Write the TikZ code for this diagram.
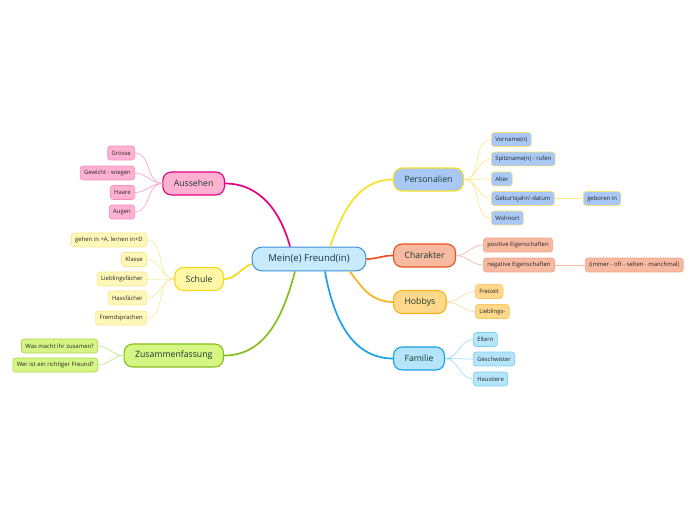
\documentclass[tikz,border=0pt]{standalone}
\usepackage{fontspec}
\setmainfont{Open Sans}
\usetikzlibrary{calc}

\definecolor{rootline}{HTML}{3C8DD6}
\definecolor{rootfill}{HTML}{C7EBFC}
\definecolor{txtdark}{HTML}{173A2E}
\definecolor{ausline}{HTML}{E6007E}
\definecolor{ausfill}{HTML}{FFB1D2}
\definecolor{ausleaf}{HTML}{F28DBE}
\definecolor{auswire}{HTML}{F9A6CB}
\definecolor{schline}{HTML}{F3DA1E}
\definecolor{schfill}{HTML}{FFF6A6}
\definecolor{schleaf}{HTML}{F5E58C}
\definecolor{schwire}{HTML}{F8EA9C}
\definecolor{zusline}{HTML}{86BF1A}
\definecolor{zusfill}{HTML}{D5F584}
\definecolor{zusleaf}{HTML}{A8D84A}
\definecolor{zuswire}{HTML}{C5E98A}
\definecolor{perline}{HTML}{F8E026}
\definecolor{perfill}{HTML}{A9C8F5}
\definecolor{perleaf}{HTML}{F5E27A}
\definecolor{perwire}{HTML}{FBE98C}
\definecolor{chaline}{HTML}{EE4F1E}
\definecolor{chafill}{HTML}{F8B9A1}
\definecolor{chaleaf}{HTML}{F2A488}
\definecolor{chawire}{HTML}{F7B9A4}
\definecolor{hobline}{HTML}{F8B21C}
\definecolor{hobfill}{HTML}{FFD88B}
\definecolor{hobleaf}{HTML}{FAC766}
\definecolor{hobwire}{HTML}{FCD9A0}
\definecolor{famline}{HTML}{18A1E5}
\definecolor{famfill}{HTML}{B4E5FB}
\definecolor{famleaf}{HTML}{80CEF2}
\definecolor{famwire}{HTML}{A3DCF6}

\begin{document}
\begin{tikzpicture}[
  x=0.025cm, y=0.025cm,
  rootnode/.style={draw=rootline, fill=rootfill, rounded corners=7pt,
               line width=0.7pt, minimum width=80.8pt, minimum height=17pt,
               font=\fontsize{6.8}{8}\selectfont, text=rootline!35!black},
  topicnode/.style={rounded corners=6pt, line width=0.8pt,
               minimum height=16.3pt, inner xsep=7.8pt,
               font=\fontsize{6.2}{7}\selectfont, text=txtdark},
  leafnode/.style={rounded corners=2pt, line width=0.45pt,
               minimum height=9.9pt, inner xsep=2.8pt, inner ysep=0pt,
               font=\fontsize{4.2}{5}\selectfont, text=black!85},
  mainline/.style={line width=1.2pt},
  leafline/.style={line width=0.5pt}
]
  \useasboundingbox (0,0) rectangle (696,-520);

  \node[rootnode] (root) at (309,-259) {Mein(e) Freund(in)};

  \node[topicnode, draw=ausline, fill=ausfill, anchor=east] (aus) at (225,-183.5) {Aussehen};
  \node[topicnode, draw=schline, fill=schfill, anchor=east] (sch) at (224,-279) {Schule};
  \node[topicnode, draw=zusline, fill=zusfill, anchor=east] (zus) at (224,-355.5) {Zusammenfassung};
  \node[topicnode, draw=perline, fill=perfill, anchor=west] (per) at (393,-179.5) {Personalien};
  \node[topicnode, draw=chaline, fill=chafill, anchor=west] (cha) at (393,-255.5) {Charakter};
  \node[topicnode, draw=hobline, fill=hobfill, anchor=west] (hob) at (393,-302) {Hobbys};
  \node[topicnode, draw=famline, fill=famfill, anchor=west] (fam) at (393,-358.5) {Familie};

  \node[leafnode, draw=ausleaf, fill=ausfill, anchor=east] (groesse) at (135,-153) {Grösse};
  \node[leafnode, draw=ausleaf, fill=ausfill, anchor=east] (gewicht) at (135,-173) {Gewicht - wiegen};
  \node[leafnode, draw=ausleaf, fill=ausfill, anchor=east] (haare)   at (135,-192.5) {Haare};
  \node[leafnode, draw=ausleaf, fill=ausfill, anchor=east] (augen)   at (135,-212) {Augen};

  \node[leafnode, draw=schleaf, fill=schfill!80!white, anchor=east] (gehen)  at (147,-240) {gehen in +A, lernen in+D};
  \node[leafnode, draw=schleaf, fill=schfill!80!white, anchor=east] (klasse) at (147,-259.5) {Klasse};
  \node[leafnode, draw=schleaf, fill=schfill!80!white, anchor=east] (lieb)   at (147,-279) {Lieblingsfächer};
  \node[leafnode, draw=schleaf, fill=schfill!80!white, anchor=east] (hass)   at (147,-298) {Hassfächer};
  \node[leafnode, draw=schleaf, fill=schfill!80!white, anchor=east] (fremd)  at (147,-318) {Fremdsprachen};

  \node[leafnode, draw=zusleaf, fill=zusfill, anchor=east] (wasmacht) at (98,-346) {Was macht ihr zusamen?};
  \node[leafnode, draw=zusleaf, fill=zusfill, anchor=east] (werist)   at (98,-365) {Wer ist ein richtiger Freund?};

  \node[leafnode, draw=perleaf, fill=perfill, anchor=west] (vorname) at (491,-139.5) {Vorname(n)};
  \node[leafnode, draw=perleaf, fill=perfill, anchor=west] (spitz)   at (491,-159) {Spitzname(n) - rufen};
  \node[leafnode, draw=perleaf, fill=perfill, anchor=west] (alter)   at (491,-179) {Alter};
  \node[leafnode, draw=perleaf, fill=perfill, anchor=west] (geburt)  at (491,-198.5) {Geburtsjahr/-datum};
  \node[leafnode, draw=perleaf, fill=perfill, anchor=west] (geboren) at (583,-198.5) {geboren in};
  \node[leafnode, draw=perleaf, fill=perfill, anchor=west] (wohnort) at (491,-218) {Wohnort};

  \node[leafnode, draw=chaleaf, fill=chafill, anchor=west] (positiv) at (483,-245) {positive Eigenschaften};
  \node[leafnode, draw=chaleaf, fill=chafill, anchor=west] (negativ) at (483,-265) {negative Eigenschaften};
  \node[leafnode, draw=chaleaf, fill=chafill, anchor=west] (immer)   at (585,-265) {(immer - oft - selten - manchmal)};

  \node[leafnode, draw=hobleaf, fill=hobfill, anchor=west] (freizeit)  at (475,-291.5) {Freizeit};
  \node[leafnode, draw=hobleaf, fill=hobfill, anchor=west] (lieblings) at (475,-311.5) {Lieblings-};

  \node[leafnode, draw=famleaf, fill=famfill, anchor=west] (eltern)  at (473,-339.5) {Eltern};
  \node[leafnode, draw=famleaf, fill=famfill, anchor=west] (geschw)  at (473,-359) {Geschwister};
  \node[leafnode, draw=famleaf, fill=famfill, anchor=west] (haustier) at (473,-379) {Haustiere};

  \draw[mainline, ausline] ($(root.north)+(-19,0)$) to[out=105,in=0] (aus.east);
  \draw[mainline, schline] ($(root.west)+(0,-5)$) to[out=200,in=0] (sch.east);
  \draw[mainline, zusline] ($(root.south)+(-14,0)$) to[out=-105,in=0] (zus.east);
  \draw[mainline, perline] ($(root.north)+(21,0)$) to[out=70,in=180] (per.west);
  \draw[mainline, chaline] (root.east) to[out=0,in=180] (cha.west);
  \draw[mainline, hobline] ($(root.south)+(41,0)$) to[out=-55,in=180] (hob.west);
  \draw[mainline, famline] ($(root.south)+(16,0)$) to[out=-80,in=180] (fam.west);

  \draw[leafline, auswire] (aus.west) to[out=180,in=0] (groesse.east);
  \draw[leafline, auswire] (aus.west) to[out=180,in=0] (gewicht.east);
  \draw[leafline, auswire] (aus.west) to[out=180,in=0] (haare.east);
  \draw[leafline, auswire] (aus.west) to[out=180,in=0] (augen.east);

  \draw[leafline, schwire] (sch.west) to[out=180,in=0] (gehen.east);
  \draw[leafline, schwire] (sch.west) to[out=180,in=0] (klasse.east);
  \draw[leafline, schwire] (sch.west) to[out=180,in=0] (lieb.east);
  \draw[leafline, schwire] (sch.west) to[out=180,in=0] (hass.east);
  \draw[leafline, schwire] (sch.west) to[out=180,in=0] (fremd.east);

  \draw[leafline, zuswire] (zus.west) to[out=180,in=0] (wasmacht.east);
  \draw[leafline, zuswire] (zus.west) to[out=180,in=0] (werist.east);

  \draw[leafline, perwire] (per.east) to[out=0,in=180] (vorname.west);
  \draw[leafline, perwire] (per.east) to[out=0,in=180] (spitz.west);
  \draw[leafline, perwire] (per.east) to[out=0,in=180] (alter.west);
  \draw[leafline, perwire] (per.east) to[out=0,in=180] (geburt.west);
  \draw[leafline, perwire] (per.east) to[out=0,in=180] (wohnort.west);
  \draw[leafline, perwire] (geburt.east) -- (geboren.west);

  \draw[leafline, chawire] (cha.east) to[out=0,in=180] (positiv.west);
  \draw[leafline, chawire] (cha.east) to[out=0,in=180] (negativ.west);
  \draw[leafline, chawire] (negativ.east) -- (immer.west);

  \draw[leafline, hobwire] (hob.east) to[out=0,in=180] (freizeit.west);
  \draw[leafline, hobwire] (hob.east) to[out=0,in=180] (lieblings.west);

  \draw[leafline, famwire] (fam.east) to[out=0,in=180] (eltern.west);
  \draw[leafline, famwire] (fam.east) to[out=0,in=180] (geschw.west);
  \draw[leafline, famwire] (fam.east) to[out=0,in=180] (haustier.west);
\end{tikzpicture}
\end{document}
